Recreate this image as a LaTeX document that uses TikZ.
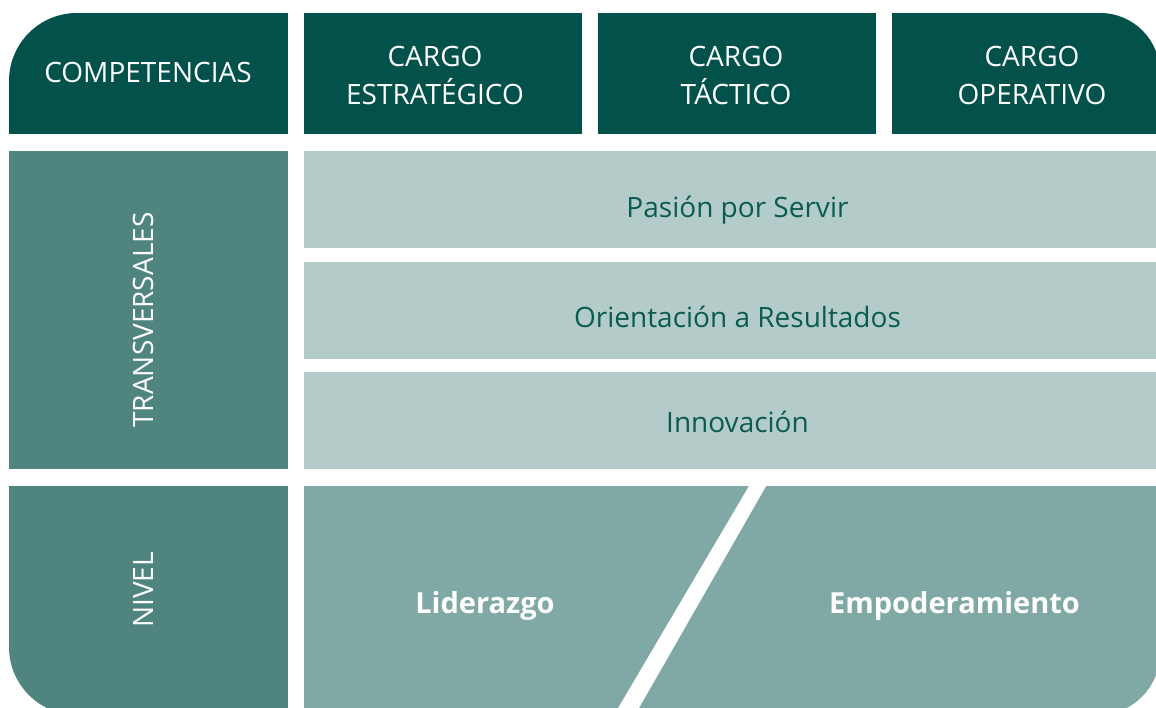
\documentclass[tikz,border=0pt]{standalone}
\usepackage{fontspec}
\setmainfont{Open Sans}
\definecolor{cdark}{HTML}{02514A}
\definecolor{cmid}{HTML}{4F857E}
\definecolor{clight}{HTML}{B3CCC9}
\definecolor{cpanel}{HTML}{80A8A4}
\definecolor{ctext}{HTML}{0B5B52}
\tikzset{
  cell/.style={inner sep=0pt, outer sep=0pt, draw=none, anchor=south west},
  hdrtxt/.style={text=white, font=\fontsize{28}{38}\selectfont, anchor=base, inner sep=0pt},
  rowtxt/.style={text=ctext, font=\fontsize{28}{34}\selectfont, anchor=base, inner sep=0pt},
  sidetxt/.style={text=white, font=\fontsize{28}{34}\selectfont, anchor=base, inner sep=0pt, rotate=90},
  boldtxt/.style={text=white, font=\fontsize{29}{34}\selectfont\bfseries, anchor=base, inner sep=0pt}
}
\begin{document}
\begin{tikzpicture}[x=1pt,y=1pt]
\useasboundingbox (0,0) rectangle (1156,708);
\fill[white] (0,0) rectangle (1156,708);
\begin{scope}
\clip (9,61) -- (9,627) arc[start angle=180,end angle=90,radius=68]
  -- (1100,695) arc[start angle=90,end angle=0,radius=60]
  -- (1160,55) arc[start angle=0,end angle=-90,radius=62]
  -- (77,-7) arc[start angle=270,end angle=180,radius=68] -- cycle;
% header row
\node[cell, fill=cdark, minimum width=279pt, minimum height=121pt] (comp) at (9,574) {};
\node[cell, fill=cdark, minimum width=278pt, minimum height=121pt] (estr) at (304,574) {};
\node[cell, fill=cdark, minimum width=278pt, minimum height=121pt] (tact) at (598,574) {};
\node[cell, fill=cdark, minimum width=268pt, minimum height=121pt] (oper) at (892,574) {};
% transversales
\node[cell, fill=cmid, minimum width=279pt, minimum height=318pt] (trans) at (9,239) {};
\node[cell, fill=clight, minimum width=856pt, minimum height=97pt] (pasion) at (304,460) {};
\node[cell, fill=clight, minimum width=856pt, minimum height=97pt] (orient) at (304,349) {};
\node[cell, fill=clight, minimum width=856pt, minimum height=97pt] (innov) at (304,239) {};
% nivel
\node[cell, fill=cmid, minimum width=279pt, minimum height=229pt] (nivel) at (9,-7) {};
\node[cell, fill=cpanel, minimum width=856pt, minimum height=229pt] (panel) at (304,-7) {};
\fill[white] (753.7,230) -- (770.7,230) -- (635,-7) -- (614,-7) -- cycle;
\end{scope}
% texts
\node[hdrtxt] (tcomp) at (148,625) {COMPETENCIAS};
\node[hdrtxt] (testr1) at (435,641) {CARGO};
\node[hdrtxt] (testr2) at (435,603) {ESTRATÉGICO};
\node[hdrtxt] (ttact1) at (736,641) {CARGO};
\node[hdrtxt] (ttact2) at (736,603) {TÁCTICO};
\node[hdrtxt] (toper1) at (1032,641) {CARGO};
\node[hdrtxt] (toper2) at (1032,603) {OPERATIVO};
\node[sidetxt] (ttrans) at (153,388) {TRANSVERSALES};
\node[sidetxt] (tnivel) at (153,118) {NIVEL};
\node[rowtxt] (tpasion) at (737.5,490) {Pasión por Servir};
\node[rowtxt] (torient) at (737.5,380) {Orientación a Resultados};
\node[rowtxt] (tinnov) at (737.5,275) {Innovación};
\node[boldtxt] (tlider) at (485,94) {Liderazgo};
\node[boldtxt] (tempod) at (954.5,94) {Empoderamiento};
\end{tikzpicture}
\end{document}
